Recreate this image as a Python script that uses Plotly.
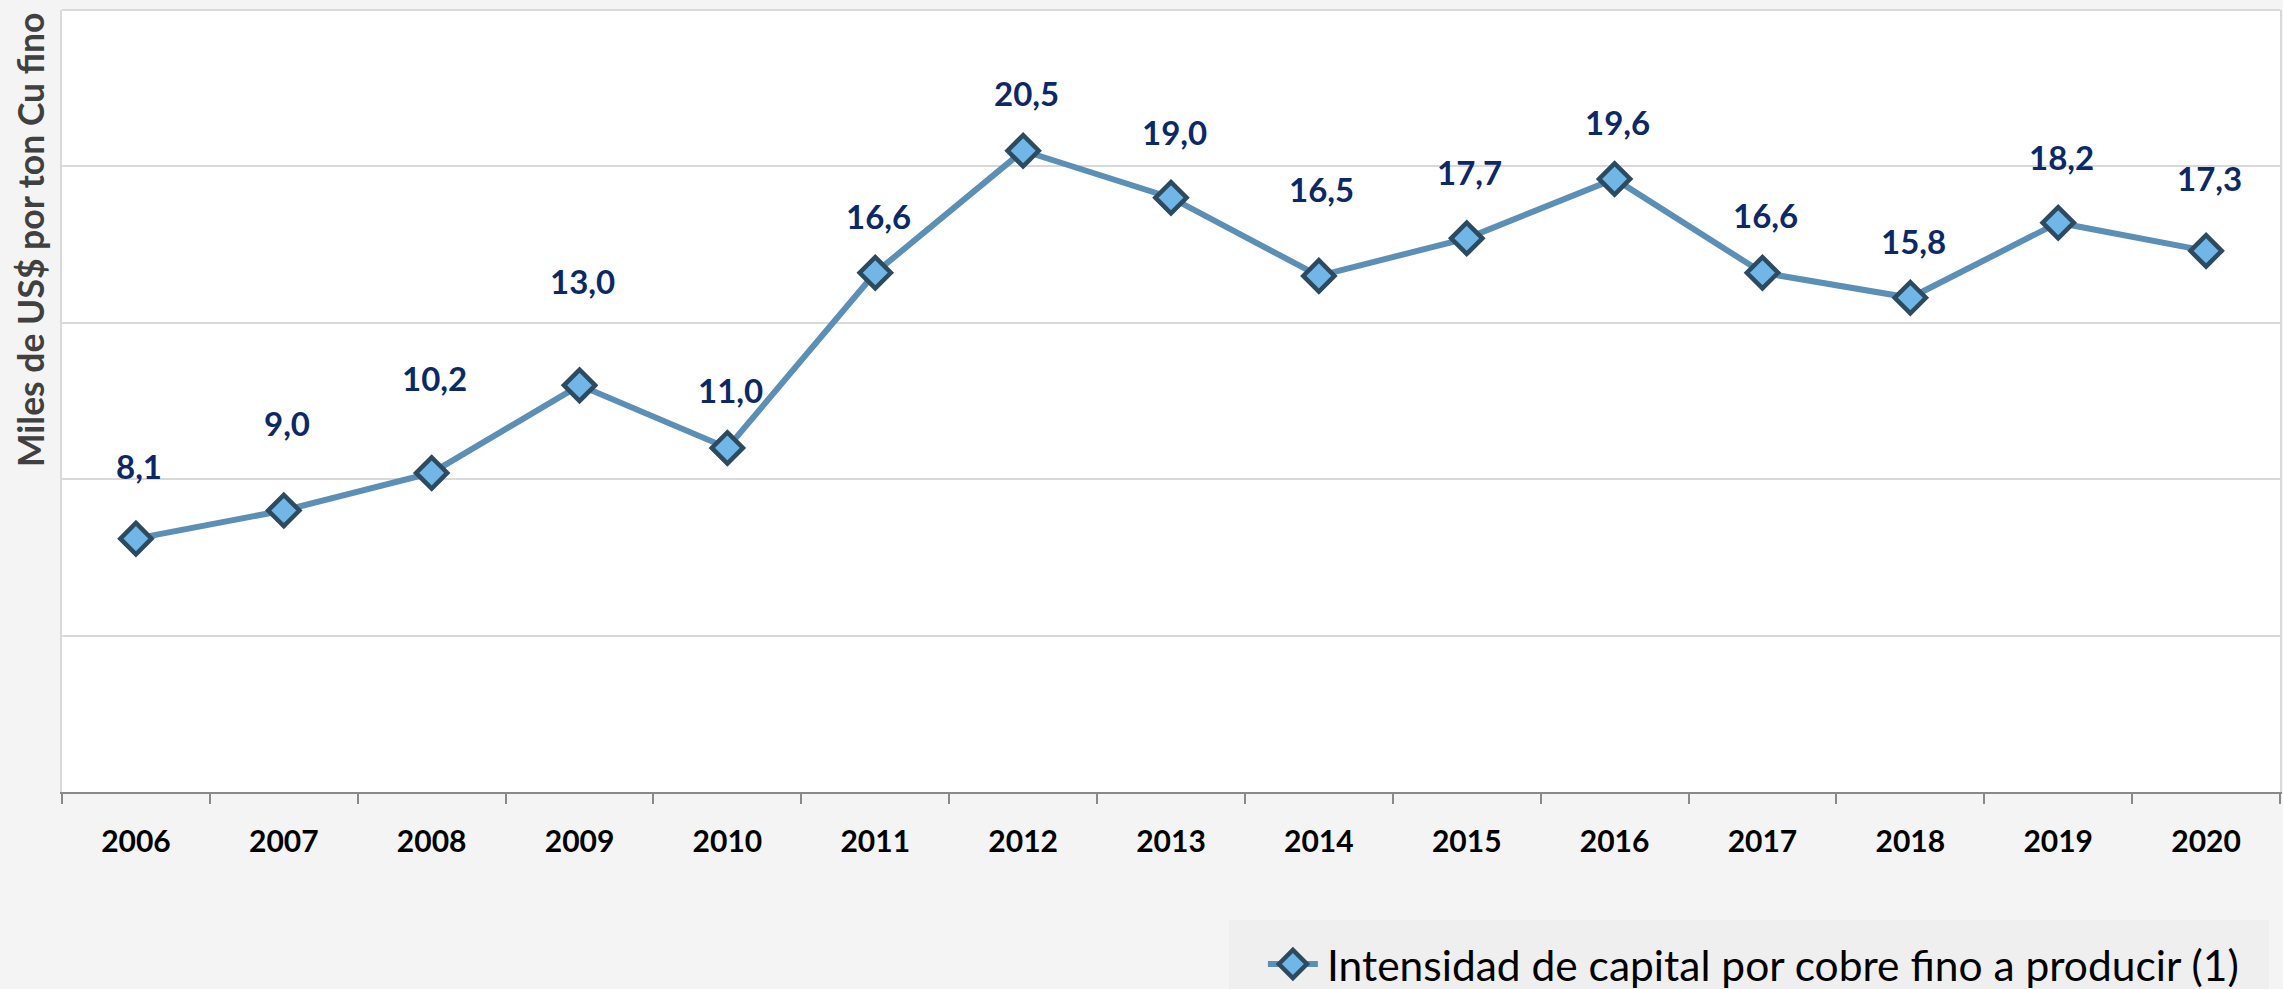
import plotly.graph_objects as go

# Capital intensity per fine copper ton, thousands of US$
years = ["2006", "2007", "2008", "2009", "2010", "2011", "2012", "2013",
         "2014", "2015", "2016", "2017", "2018", "2019", "2020"]
intensity = [8.1, 9.0, 10.2, 13.0, 11.0, 16.6, 20.5, 19.0,
             16.5, 17.7, 19.6, 16.6, 15.8, 18.2, 17.3]

series_name = "Intensidad de capital por cobre fino a producir (1)"
y_title = "Miles de US$ por ton Cu fino"

# vertical lift (px) of each value label above its marker
label_lift = [73, 87, 95, 104, 58, 57, 58, 66, 87, 66, 57, 58, 57, 66, 73]

W, H = 2283, 989
M_L, M_R, M_T, M_B = 62, 1, 10, 197
plot_h = H - M_T - M_B
plot_w = W - M_L - M_R

LINE = "#5b8fb5"
FILL = "#70b6e6"
EDGE = "#2c4a60"
NAVY = "#0c2866"
FONT = "Lato"


def px_x(px):
    """Horizontal page pixel -> paper coordinate."""
    return (px - M_L) / plot_w


def px_y(py):
    """Vertical page pixel (from top) -> paper coordinate."""
    return (H - M_B - py) / plot_h


fig = go.Figure()
fig.add_trace(go.Scatter(
    x=years, y=intensity, name=series_name,
    mode="lines+markers",
    line=dict(color=LINE, width=6),
    marker=dict(symbol="diamond", size=24, color=FILL,
                line=dict(color=EDGE, width=4.5)),
    hoverinfo="x+y", showlegend=False,
))

# value labels; on a category axis annotations are placed by category index
for i, (v, lift) in enumerate(zip(intensity, label_lift)):
    fig.add_annotation(
        x=i, y=v, xref="x", yref="y",
        text=f"{v:.1f}".replace(".", ","),
        showarrow=False, yshift=lift, xshift=3,
        font=dict(family=FONT, size=33, color=NAVY, weight="bold"),
    )

# y-axis title, set high along the left edge
fig.add_annotation(
    x=0, xref="paper", xshift=-31, xanchor="center",
    y=px_y(240), yref="paper", yanchor="middle",
    text=y_title, textangle=-90, showarrow=False,
    font=dict(family=FONT, size=35.5, color="#404040", weight="bold"),
)

# legend panel: background, key (line + diamond) and series name
fig.add_shape(
    type="rect", xref="paper", yref="paper",
    x0=px_x(1230), x1=px_x(2271), y0=px_y(989), y1=px_y(920),
    fillcolor="#efefef", line=dict(width=0), layer="below",
)
key_cx, key_cy = 1294, 964
fig.add_shape(
    type="line", xref="paper", yref="paper",
    x0=px_x(key_cx - 25), x1=px_x(key_cx + 25),
    y0=px_y(key_cy), y1=px_y(key_cy),
    line=dict(color=LINE, width=6),
)
fig.add_shape(
    type="path", xref="paper", yref="paper",
    xsizemode="pixel", ysizemode="pixel",
    xanchor=px_x(key_cx), yanchor=px_y(key_cy),
    path="M -14,0 L 0,14 L 14,0 L 0,-14 Z",
    fillcolor=FILL, line=dict(color=EDGE, width=4.5),
)
fig.add_annotation(
    x=px_x(1326), xref="paper", xanchor="left",
    y=px_y(964), yref="paper", yanchor="middle",
    text=series_name, showarrow=False,
    font=dict(family=FONT, size=42.5, color="#000000"),
)

# top border of the plot area
fig.add_shape(
    type="line", xref="paper", yref="paper", x0=0, x1=1, y0=1, y1=1,
    line=dict(color="#d9d9d9", width=2),
)

fig.update_layout(
    width=W, height=H,
    margin=dict(l=M_L, r=M_R, t=M_T, b=M_B),
    paper_bgcolor="#f4f4f4", plot_bgcolor="#ffffff",
    font=dict(family=FONT),
    showlegend=False,
    xaxis=dict(
        type="category", range=[-0.5, len(years) - 0.5],
        showline=True, linecolor="#898989", linewidth=2,
        ticks="outside", tickson="boundaries", ticklen=10,
        tickcolor="#898989", tickwidth=2,
        ticklabelstandoff=22,
        tickfont=dict(family=FONT, size=30, color="#000000", weight="bold"),
        showgrid=False,
    ),
    yaxis=dict(
        range=[0, 25], dtick=5, showticklabels=False,
        showgrid=True, gridcolor="#d9d9d9", gridwidth=2,
        showline=True, linecolor="#d9d9d9", linewidth=2, mirror=True,
        zeroline=False, ticks="",
    ),
)

fig.write_html("out.html")
